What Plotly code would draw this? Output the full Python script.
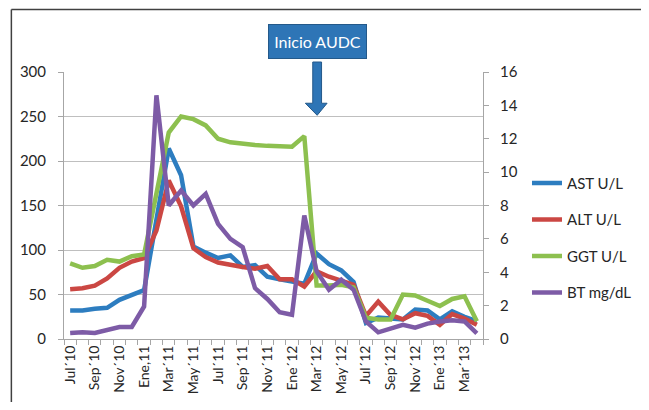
import plotly.graph_objects as go

months = ["Jul´10", "Ago´10", "Sep´10", "Oct´10", "Nov´10", "Dic´10", "Ene,11", "Feb´11",
          "Mar´11", "Abr´11", "May´11", "Jun´11", "Jul´11", "Ago´11", "Sep´11", "Oct´11",
          "Nov´11", "Dic´11", "Ene´12", "Feb´12", "Mar´12", "Abr´12", "May´12", "Jun´12",
          "Jul´12", "Ago´12", "Sep´12", "Oct´12", "Nov´12", "Dic´12", "Ene´13", "Feb´13",
          "Mar´13", "Abr´13"]
tick_labels = [m if i % 2 == 0 else "" for i, m in enumerate(months)]

ast = [32, 32, 34, 35, 44, 50, 55, 134, 214, 184, 104, 97, 91, 94, 81, 83, 70, 67, 65, 62,
       96, 84, 77, 64, 18, 24, 23, 22, 33, 32, 22, 31, 25, 20]
alt = [56, 57, 60, 68, 80, 87, 91, 122, 178, 149, 102, 92, 86, 83, 81, 79, 82, 67, 67, 59,
       76, 70, 66, 61, 26, 42, 27, 22, 29, 26, 16, 28, 23, 16]
ggt = [85, 80, 82, 89, 87, 93, 95, 162, 232, 250, 247, 240, 225, 221, 219, 218, 217, 216, 216, 228,
       60, 60, 61, 58, 24, 22, 22, 50, 49, 43, 37, 45, 48, 20]
bt = [0.36, 0.4, 0.36, 0.56, 0.72, 0.72, 1.95, 14.6, 8.0, 8.9, 8.0, 8.7, 6.9, 6.0, 5.5, 3.05,
      2.4, 1.6, 1.45, 7.4, 4.05, 2.95, 3.55, 2.95, 1.05, 0.4, 0.6, 0.85, 0.68, 0.92, 1.05, 1.12,
      1.05, 0.34]

FONT = "Lato"
TXT = "#262626"
GRID = "#BFBFBF"
AXIS = "#A6A6A6"
BOX = "#2E75B6"
BOX_LINE = "#24598A"

series = [
    ("AST U/L", ast, "#2D7DC0", "y"),
    ("ALT U/L", alt, "#CB4743", "y"),
    ("GGT U/L", ggt, "#8DC04F", "y"),
    ("BT mg/dL", bt, "#7D5BA6", "y2"),
]

fig = go.Figure()
for name, vals, color, yax in series:
    fig.add_trace(go.Scatter(
        x=months, y=vals, name=name, mode="lines", yaxis=yax,
        legendgroup=name,
        line=dict(color=color, width=4.5),
    ))

# the page body adds an 8px margin, so the figure is sized to avoid scrolling
fig.update_layout(
    width=641, height=394,
    margin=dict(l=56, r=155, t=64, b=63),
    paper_bgcolor="white", plot_bgcolor="white",
    font=dict(family=FONT, size=15, color=TXT),
    showlegend=True,
    legend=dict(x=1.105, xanchor="left", y=0.645, yanchor="top",
                font=dict(family=FONT, size=15, color=TXT),
                tracegroupgap=14, bgcolor="rgba(0,0,0,0)"),
    xaxis=dict(
        type="category", categoryorder="array", categoryarray=months,
        tickmode="array", tickvals=months, ticktext=tick_labels,
        tickangle=-90, tickson="boundaries", ticks="outside", ticklen=5,
        tickcolor=AXIS, showline=True, linecolor=AXIS, linewidth=1,
        showgrid=False, tickfont=dict(family=FONT, size=14, color=TXT),
        range=[-0.5, 33.5], automargin=False,
    ),
    yaxis=dict(
        range=[0, 300], dtick=50, showgrid=True, gridcolor=GRID, gridwidth=1,
        showline=True, linecolor=AXIS, ticks="outside", ticklen=5, tickcolor=AXIS,
        zeroline=False, tickfont=dict(family=FONT, size=15, color=TXT),
        ticklabelstandoff=9,
    ),
    yaxis2=dict(
        range=[0, 16], dtick=2, overlaying="y", side="right", showgrid=False,
        showline=True, linecolor=AXIS, ticks="outside", ticklen=5, tickcolor=AXIS,
        zeroline=False, tickfont=dict(family=FONT, size=15, color=TXT),
        ticklabelstandoff=8,
    ),
)

# "Inicio AUDC" call-out box
fig.add_annotation(
    xref="paper", yref="paper", x=0.604, y=1.1155, xanchor="center", yanchor="middle",
    text="Inicio AUDC", showarrow=False,
    font=dict(family=FONT, size=16, color="white"),
    bgcolor=BOX, bordercolor=BOX_LINE, borderwidth=1, borderpad=4,
    width=89, height=25,
)

# block arrow pointing down at Mar'12
ax0, ax1 = 0.5937, 0.6147
hx0, hx1, tip = 0.5760, 0.6279, 0.6042
yt, yh, yb = 1.0374, 0.8830, 0.8378
arrow = (f"M {ax0},{yt} L {ax1},{yt} L {ax1},{yh} L {hx1},{yh} "
         f"L {tip},{yb} L {hx0},{yh} L {ax0},{yh} Z")
fig.add_shape(type="path", xref="paper", yref="paper", path=arrow,
              fillcolor=BOX, line=dict(color=BOX_LINE, width=1), layer="above")

# outer chart frame (only its top and left edges fall inside the picture)
fig.add_shape(type="line", xref="paper", yref="paper",
              x0=-0.1256, x1=1.8, y0=1.2343, y1=1.2343,
              line=dict(color="#404040", width=1.5), layer="below")
fig.add_shape(type="line", xref="paper", yref="paper",
              x0=-0.1256, x1=-0.1256, y0=-0.8, y1=1.2343,
              line=dict(color="#404040", width=1.5), layer="below")

fig.write_html("out.html")
